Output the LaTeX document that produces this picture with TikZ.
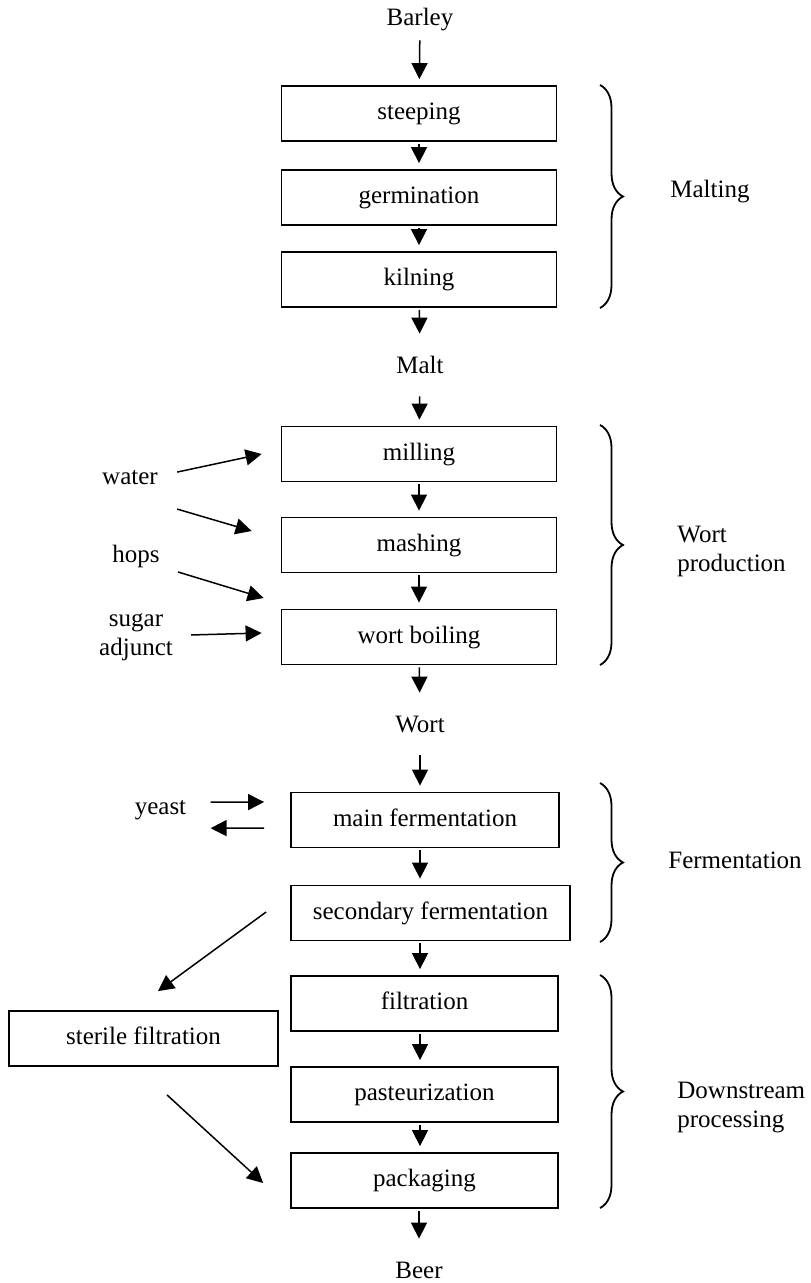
\documentclass[tikz,border=0pt]{standalone}
\usepackage{fontspec}
\setmainfont{Liberation Serif}
\usetikzlibrary{arrows.meta, decorations.pathreplacing}
\tikzset{
    x=0.5pt, y=-0.5pt, % one unit is one pixel of the sketch, y runs down
    stage/.style={draw, line width=0.9pt, minimum height=27.5pt, inner sep=0pt,
        text height=8.5pt, text depth=2.5pt}, % process boxes
    product/.style={inner xsep=0pt, inner ysep=8pt, text height=8.5pt, text depth=2.5pt},
    side/.style={inner sep=0pt, align=center},
    flow/.style={-{Triangle[width=8pt,length=8pt]}, line width=0.75pt},
    link/.style={flow, shorten <=1pt, shorten >=3pt}, % arrows down the main line
    group/.style={decorate, decoration={brace, amplitude=11.5pt}, line width=0.9pt},
}

\begin{document}
\begin{tikzpicture}[font=\fontsize{12.5}{14.5}\selectfont]
            \useasboundingbox (0,0) rectangle (810,1283);

            \node[product, inner ysep=3.5pt, anchor=base] (barley) at (420,26) {Barley};
            \node[stage, minimum width=137.5pt] (steeping) at (419,113.5) {steeping};
            \node[stage, minimum width=137.5pt] (germination) at (419,197.5) {germination};
            \node[stage, minimum width=137.5pt] (kilning) at (419,279.5) {kilning};
            \node[product, anchor=base] (malt) at (420,373) {Malt};
            \node[stage, minimum width=137.5pt] (milling) at (419,454) {milling};
            \node[stage, minimum width=137.5pt] (mashing) at (419,545) {mashing};
            \node[stage, minimum width=137.5pt] (boiling) at (419,637) {wort boiling};
            \node[product, anchor=base] (wort) at (420,732) {Wort};
            \node[stage, minimum width=134pt] (mainferm) at (425,820) {main fermentation};
            \node[stage, minimum width=139.5pt] (secferm) at (430.5,913) {secondary fermentation};
            \node[stage, minimum width=133.5pt] (filtration) at (424.5,1003.5) {filtration};
            \node[stage, minimum width=133.5pt] (pasteurization) at (424.5,1094.5) {pasteurization};
            \node[stage, minimum width=133.5pt] (packaging) at (424.5,1180.5) {packaging};
            \node[product, anchor=base] (beer) at (419,1278) {Beer};
            \node[stage, minimum width=134.5pt] (sterile) at (143.5,1038.5) {sterile filtration};

            % inputs on the left
            \node[side, anchor=base] (water) at (130,484) {water};
            \node[side, anchor=base] (hops) at (136,562) {hops};
            \node[side, anchor=north] (sugar) at (136,613) {sugar\\adjunct};
            \node[side, anchor=base] (yeast) at (160.5,814) {yeast};

            % stage groups on the right
            \node[side, anchor=base west] (malting) at (670,198) {Malting};
            \node[side, align=left, anchor=north west] (wortprod) at (677,526) {Wort\\production};
            \node[side, anchor=base west] (fermentation) at (668,868) {Fermentation};
            \node[side, align=left, anchor=north west] (downstream) at (677,1082) {Downstream\\processing};

            \draw[link] (barley) -- (steeping);
            \draw[link] (steeping) -- (germination);
            \draw[link] (germination) -- (kilning);
            \draw[link] (kilning) -- (malt);
            \draw[link] (malt) -- (milling);
            \draw[link] (milling) -- (mashing);
            \draw[link] (mashing) -- (boiling);
            \draw[link] (boiling) -- (wort);
            \draw[link] (wort) -- (wort |- mainferm.north);
            \draw[link] (mainferm.south -| wort) -- (secferm.north -| wort);
            \draw[link] (secferm.south -| wort) -- (filtration.north -| wort);
            \draw[link] (filtration.south -| wort) -- (pasteurization.north -| wort);
            \draw[link] (pasteurization.south -| wort) -- (packaging.north -| wort);
            \draw[link] (packaging.south -| beer) -- (beer);

            \draw[flow] ([shift={(19,-5)}]water.east) -- ([shift={(-19,0)}]milling.west);
            \draw[flow] ([shift={(19,32)}]water.east) -- ([shift={(-29,-14)}]mashing.west);
            \draw[flow] ([shift={(18,16)}]hops.east) -- ([shift={(-17,-39)}]boiling.west);
            \draw[flow] ([shift={(18,-2)}]sugar.east) -- ([shift={(-19,-4)}]boiling.west);

            \draw[flow] ([shift={(24,-7.5)}]yeast.east) -- ([shift={(-26,-18)}]mainferm.west);
            \draw[flow] ([shift={(-26,8)}]mainferm.west) -- ([shift={(24,18.5)}]yeast.east);

            \draw[flow] ([shift={(-24,-1)}]secferm.west) -- ([shift={(14.5,-19)}]sterile.north);
            \draw[flow] ([shift={(23.5,28)}]sterile.south) -- ([shift={(-27,2.5)}]packaging.west);

            \draw[group] (600,85) -- (600,308);
            \draw[group] (600,425) -- (600,665);
            \draw[group] (600,783) -- (600,942);
            \draw[group] (600,975) -- (600,1208);
        \end{tikzpicture}
\end{document}
